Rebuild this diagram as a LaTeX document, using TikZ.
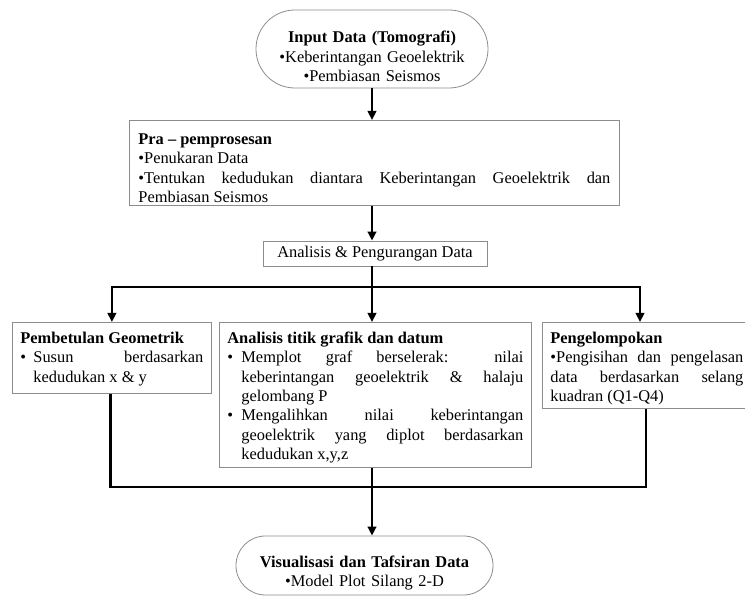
\documentclass[tikz,border=0pt]{standalone}
\usepackage{fontspec}
\setmainfont{Liberation Serif}
\usetikzlibrary{arrows.meta}
\setlength{\parindent}{0pt}
\definecolor{boxgray}{RGB}{140,140,140}
\begin{document}
\begin{tikzpicture}[x=1pt,y=-1pt,
  txt/.style={font=\fontsize{16.4}{19.4}\selectfont},
  box/.style={txt, draw=boxgray, line width=0.8pt, anchor=north west, inner xsep=8pt, inner ysep=0pt, align=justify},
  oval/.style={txt, draw=boxgray, line width=0.8pt, inner sep=0pt, align=center},
  conn/.style={line width=2.6pt, black},
  arr/.style={conn, -{Triangle[length=9pt,width=8.5pt]}}
]
\useasboundingbox (0,0) rectangle (745,604);

% top terminal
\node[oval, text width=232pt, text height=33pt, text depth=45pt, rounded corners=38.9pt] (io) at (372,49)
  {\textbf{Input Data (Tomografi)}\\•Keberintangan Geoelektrik\\•Pembiasan Seismos};

% pre-processing
\node[box, inner xsep=9pt, text width=472pt, text height=24pt, text depth=61pt] (pra) at (129,120)
  {\textbf{Pra – pemprosesan}\par
   •Penukaran Data\par
   •Tentukan kedudukan diantara Keberintangan Geoelektrik dan\linebreak Pembiasan Seismos\par};

% analysis and reduction
\node[txt, draw=boxgray, line width=0.8pt, minimum width=224pt, minimum height=25pt, inner sep=0pt] (apd) at (375,253.5)
  {Analisis \& Pengurangan Data};

% three branches
\node[box, text width=183pt, text height=21pt, text depth=50pt] (pg) at (12,322)
  {\textbf{Pembetulan Geometrik}\par
   \hangindent=13pt\hangafter=1 \makebox[13pt][l]{•}Susun berdasarkan\linebreak kedudukan x \& y\par};

\node[box, text width=296pt, text height=21pt, text depth=124pt] (ag) at (219,322)
  {\textbf{Analisis titik grafik dan datum}\par
   \hangindent=14pt\hangafter=1 \makebox[14pt][l]{•}Memplot graf berselerak: nilai\linebreak keberintangan geoelektrik \& halaju\linebreak gelombang P\par
   \hangindent=14pt\hangafter=1 \makebox[14pt][l]{•}Mengalihkan nilai keberintangan\linebreak geoelektrik yang diplot berdasarkan\linebreak kedudukan x,y,z\par};

\node[box, text width=193pt, text height=21pt, text depth=65pt] (pk) at (542,322)
  {\textbf{Pengelompokan}\par
   •Pengisihan dan pengelasan\linebreak data berdasarkan selang\linebreak kuadran (Q1-Q4)\par};

% bottom terminal
\node[oval, text width=257pt, text height=31pt, text depth=28pt, rounded corners=29.4pt] (vo) at (364.5,565.5)
  {\textbf{Visualisasi dan Tafsiran Data}\\•Model Plot Silang 2-D};

% connectors
\draw[arr] (io.south) -- (io.south |- pra.north);
\draw[arr] (pra.south -| io.south) -- (apd.north -| io.south);

\coordinate (j1) at (372,287);
\draw[conn] (apd.south -| j1) -- (j1);
\draw[arr] (j1) -| (pg.north);
\draw[arr] (j1) -| ([xshift=98pt]pk.north west);
\draw[arr] (j1) -- (ag.north -| j1);

\coordinate (j2) at (372,487);
\draw[conn] ([xshift=-1.5pt]pg.south) |- (j2);
\draw[conn] ([xshift=104pt]pk.south west) |- (j2);
\draw[arr] (ag.south -| j2) -- (vo.north -| j2);
\end{tikzpicture}
\end{document}
